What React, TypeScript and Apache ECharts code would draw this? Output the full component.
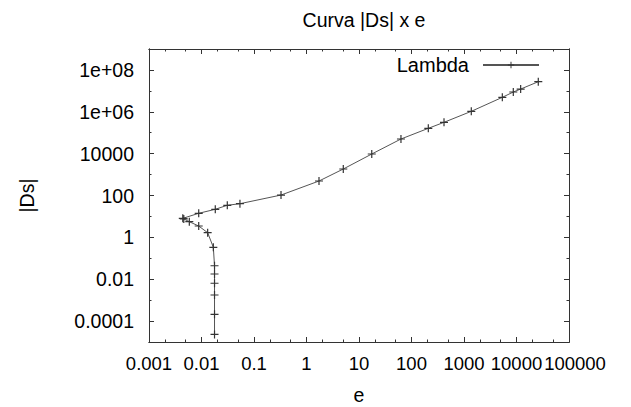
import React, { useEffect, useRef } from 'react';
import * as echarts from 'echarts';

// e (x) and |Ds| (y) values of the "Lambda" curve, in drawing order
const eValues = [
  0.0177, 0.0177, 0.0177, 0.0177, 0.0177, 0.0177, 0.0168, 0.0131, 0.00885, 0.00586,
  0.0046, 0.0044, 0.00885, 0.0183, 0.031, 0.054, 0.327, 1.73, 5.02, 17.5,
  63, 209, 416, 1377, 5370, 8690, 12000, 26000,
];
const dsValues = [
  2.3e-5, 0.00021, 0.00176, 0.0064, 0.0177, 0.044, 0.335, 1.67, 3.48, 5.6,
  7.6, 8.1, 14.1, 21.9, 34, 40.6, 105, 492, 1845, 9590,
  50000, 162000, 314000, 1.05e6, 4.9e6, 8.8e6, 1.22e7, 2.74e7,
];

const xMajorTicks = [0.001, 0.01, 0.1, 1, 10, 100, 1000, 10000, 100000];
const xTickLabels = ['0.001', '0.01', '0.1', '1', '10', '100', '1000', '10000', '100000'];
const xMinorTicks = [
  0.002, 0.005, 0.02, 0.05, 0.2, 0.5, 2, 5, 20, 50, 200, 500, 2000, 5000, 20000, 50000,
];
const yMajorTicks = [1e-4, 1e-2, 1, 1e2, 1e4, 1e6, 1e8];
const yTickLabels = ['0.0001', '0.01', '1', '100', '10000', '1e+06', '1e+08'];
const yMinorTicks = [1e-3, 1e-1, 10, 1e3, 1e5, 1e7];

const FONT = '"Liberation Sans", Arial, sans-serif';
const AXIS_COLOR = '#333';
const PLUS = 'path://M0,3.4H8V4.6H0ZM3.4,0H4.6V8H3.4Z';

function labelFor(ticks: number[], labels: string[]) {
  return (v: number) => {
    for (let i = 0; i < ticks.length; i++) {
      if (Math.abs(Math.log10(v) - Math.log10(ticks[i])) < 1e-6) return labels[i];
    }
    return '';
  };
}

function logAxis(
  min: number,
  max: number,
  position: string,
  ticks: number[],
  length: number,
  labelValues: number[] | null,
  labelFormatter: ((v: number) => string) | null,
  extra: any = {},
  labelExtra: any = {}
) {
  return {
    type: 'log',
    logBase: 10,
    min,
    max,
    position,
    splitLine: { show: false },
    minorTick: { show: false },
    axisLine: { show: true, onZero: false, lineStyle: { color: AXIS_COLOR, width: 1 } },
    axisTick: {
      show: true,
      inside: true,
      length,
      customValues: ticks,
      lineStyle: { color: AXIS_COLOR, width: 1 },
    },
    axisLabel: labelValues
      ? {
          show: true,
          customValues: labelValues,
          interval: 0,
          hideOverlap: false,
          showMinLabel: true,
          showMaxLabel: true,
          formatter: labelFormatter,
          fontFamily: FONT,
          fontSize: position === 'bottom' ? 18.5 : 19.5,
          color: '#000',
          margin: position === 'bottom' ? 12 : 15,
          ...labelExtra,
        }
      : { show: false },
    ...extra,
  };
}

export default function App() {
  const ref = useRef<HTMLDivElement>(null);
  useEffect(() => {
    if (!ref.current) return;
    const chart = echarts.init(ref.current, null, { renderer: 'svg' });
    const data = eValues.map((x, i) => [x, dsValues[i]]);
    const xFmt = labelFor(xMajorTicks, xTickLabels);
    const yFmt = labelFor(yMajorTicks, yTickLabels);
    const n = xMajorTicks.length;
    chart.setOption({
      animation: false,
      backgroundColor: '#fff',
      title: {
        text: 'Curva |Ds| x e',
        left: 359,
        textAlign: 'center',
        top: 5,
        textStyle: { fontFamily: FONT, fontSize: 19.5, fontWeight: 'normal', color: '#000' },
      },
      legend: {
        data: ['Lambda'],
        right: 86,
        top: 50,
        align: 'right',
        itemWidth: 56,
        itemHeight: 8,
        textStyle: { fontFamily: FONT, fontSize: 20, color: '#000', padding: [0, 9, 0, 0] },
      },
      grid: { left: 149, right: 62, top: 49, bottom: 65, containLabel: false, outerBoundsMode: 'none' },
      xAxis: [
        logAxis(0.001, 100000, 'bottom', xMajorTicks, 5, xMajorTicks.slice(0, n - 1), xFmt, {
          name: 'e',
          nameLocation: 'middle',
          nameGap: 43,
          nameTextStyle: { fontFamily: FONT, fontSize: 19.5, color: '#000' },
        }),
        logAxis(0.001, 100000, 'bottom', xMinorTicks, 2.5, xMajorTicks.slice(n - 1), xFmt, {}, {
          padding: [0, 0, 0, 12],
        }),
        logAxis(0.001, 100000, 'top', xMajorTicks, 5, null, null),
        logAxis(0.001, 100000, 'top', xMinorTicks, 2.5, null, null),
      ],
      yAxis: [
        logAxis(1e-5, 1e9, 'left', yMajorTicks, 5, yMajorTicks, yFmt, {
          name: '|Ds|',
          nameLocation: 'middle',
          nameRotate: 90,
          nameGap: 112,
          nameTextStyle: { fontFamily: FONT, fontSize: 19.5, color: '#000' },
        }),
        logAxis(1e-5, 1e9, 'left', yMinorTicks, 2.5, null, null),
        logAxis(1e-5, 1e9, 'right', yMajorTicks, 5, null, null),
        logAxis(1e-5, 1e9, 'right', yMinorTicks, 2.5, null, null),
      ],
      series: [
        {
          name: 'Lambda',
          type: 'line',
          xAxisIndex: 0,
          yAxisIndex: 0,
          data,
          symbol: PLUS,
          symbolSize: 8,
          showSymbol: true,
          showAllSymbol: true,
          lineStyle: { color: '#555', width: 1 },
          itemStyle: { color: '#333' },
        },
      ],
    });
    return () => chart.dispose();
  }, []);
  return <div ref={ref} style={{ width: 631, height: 407, position: 'absolute', left: 0, top: 0 }} />;
}
